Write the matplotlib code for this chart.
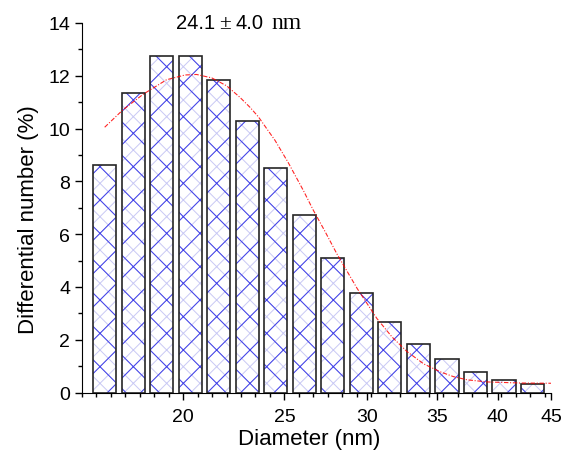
import numpy as np
import matplotlib
matplotlib.use("Agg")
import matplotlib.pyplot as plt
from matplotlib.ticker import FixedLocator, NullFormatter, FixedFormatter

# bin centres (nm) and differential number (%)
diam = [16.82, 17.91, 19.07, 20.31, 21.63, 23.03, 24.53, 26.12,
        27.82, 29.62, 31.55, 33.60, 35.78, 38.10, 40.57, 43.21]
number = [8.63, 11.36, 12.76, 12.76, 11.84, 10.28, 8.50, 6.74,
          5.11, 3.78, 2.68, 1.85, 1.26, 0.79, 0.49, 0.31]

# fitted curve
fit_x = [16.82, 17.5, 18.31, 19.28, 20.08, 20.60, 21.3, 22.01, 22.67, 23.18,
         23.60, 24.49, 25.22, 26.07, 26.65, 27.3, 28.07, 29.34, 30.66, 31.7,
         32.76, 34.0, 35.27, 36.3, 37.41, 39.10, 42.0, 45.0]
fit_y = [10.05, 10.70, 11.30, 11.85, 12.03, 12.05, 11.92, 11.62, 11.18, 10.80,
         10.45, 9.55, 8.70, 7.65, 6.90, 6.15, 5.25, 3.95, 2.80, 2.10,
         1.55, 1.08, 0.78, 0.60, 0.48, 0.40, 0.36, 0.35]

xticks = [20, 25, 30, 35, 40, 45]

plt.rcParams['font.family'] = ['Liberation Sans', 'DejaVu Sans']
plt.rcParams['hatch.linewidth'] = 0.7

fig = plt.figure(figsize=(5.63, 4.52), dpi=100)
ax = fig.add_axes([82/563, 1 - 393.5/452, (551-82)/563, (393.5-24)/452])
ax.set_xscale('log')

c = np.array(diam)
h = 0.0254  # half bar width in ln units
left = c*np.exp(-h)
width = c*(np.exp(h) - np.exp(-h))

ax.bar(left, number, width=width, align='edge', color='white',
       edgecolor='#c8c8f4', hatch='xx', linewidth=0, zorder=2)
ax.bar(left, number, width=width, align='edge', color='none',
       edgecolor='#4040e8', hatch='x', linewidth=0, zorder=3)
ax.bar(left, number, width=width, align='edge', color='none',
       edgecolor='#262626', linewidth=1.2, zorder=4)

ax.plot(fit_x, fit_y, color='red', lw=0.8, alpha=0.85,
        linestyle=(0, (4, 1.5, 1, 1.5)), zorder=5)

ax.set_xlim(16, 45)
ax.set_ylim(0, 14)
ax.spines['top'].set_visible(False)
ax.spines['right'].set_visible(False)

ax.xaxis.set_major_locator(FixedLocator(xticks))
ax.xaxis.set_major_formatter(FixedFormatter([str(t) for t in xticks]))
step = np.log(25/20)/7
minor = 20*np.exp(np.arange(-8, 60)*step)
minor = minor[(minor >= 16) & (minor <= 45)]
ax.xaxis.set_minor_locator(FixedLocator(minor))
ax.xaxis.set_minor_formatter(NullFormatter())
ax.set_yticks(np.arange(0, 15, 2))
ax.set_yticks(np.arange(0, 15, 1), minor=True)

ax.tick_params(which='major', direction='out', length=5, width=1, labelsize=14)
ax.tick_params(axis='x', which='major', pad=6)
ax.tick_params(which='minor', direction='out', length=3, width=1)

ax.set_xlabel('Diameter (nm)', fontsize=16)
ax.xaxis.set_label_coords(0.484, -0.096)
ax.set_ylabel('Differential number (%)', fontsize=16)
ax.yaxis.set_label_coords(-0.092, 0.47)

base = 1 - 29.3/452
fig.text(176/563, base, '24.1', fontsize=14.5, va='baseline', ha='left')
fig.text(219/563, base, '\u00b1', fontsize=15.5, va='baseline', ha='left',
         family='Liberation Serif')
fig.text(236/563, base, '4.0', fontsize=14.5, va='baseline', ha='left')
fig.text(271/563, base, 'nm', fontsize=17, va='baseline', ha='left',
         family='Liberation Serif')

fig.savefig('out.png', dpi=100)
